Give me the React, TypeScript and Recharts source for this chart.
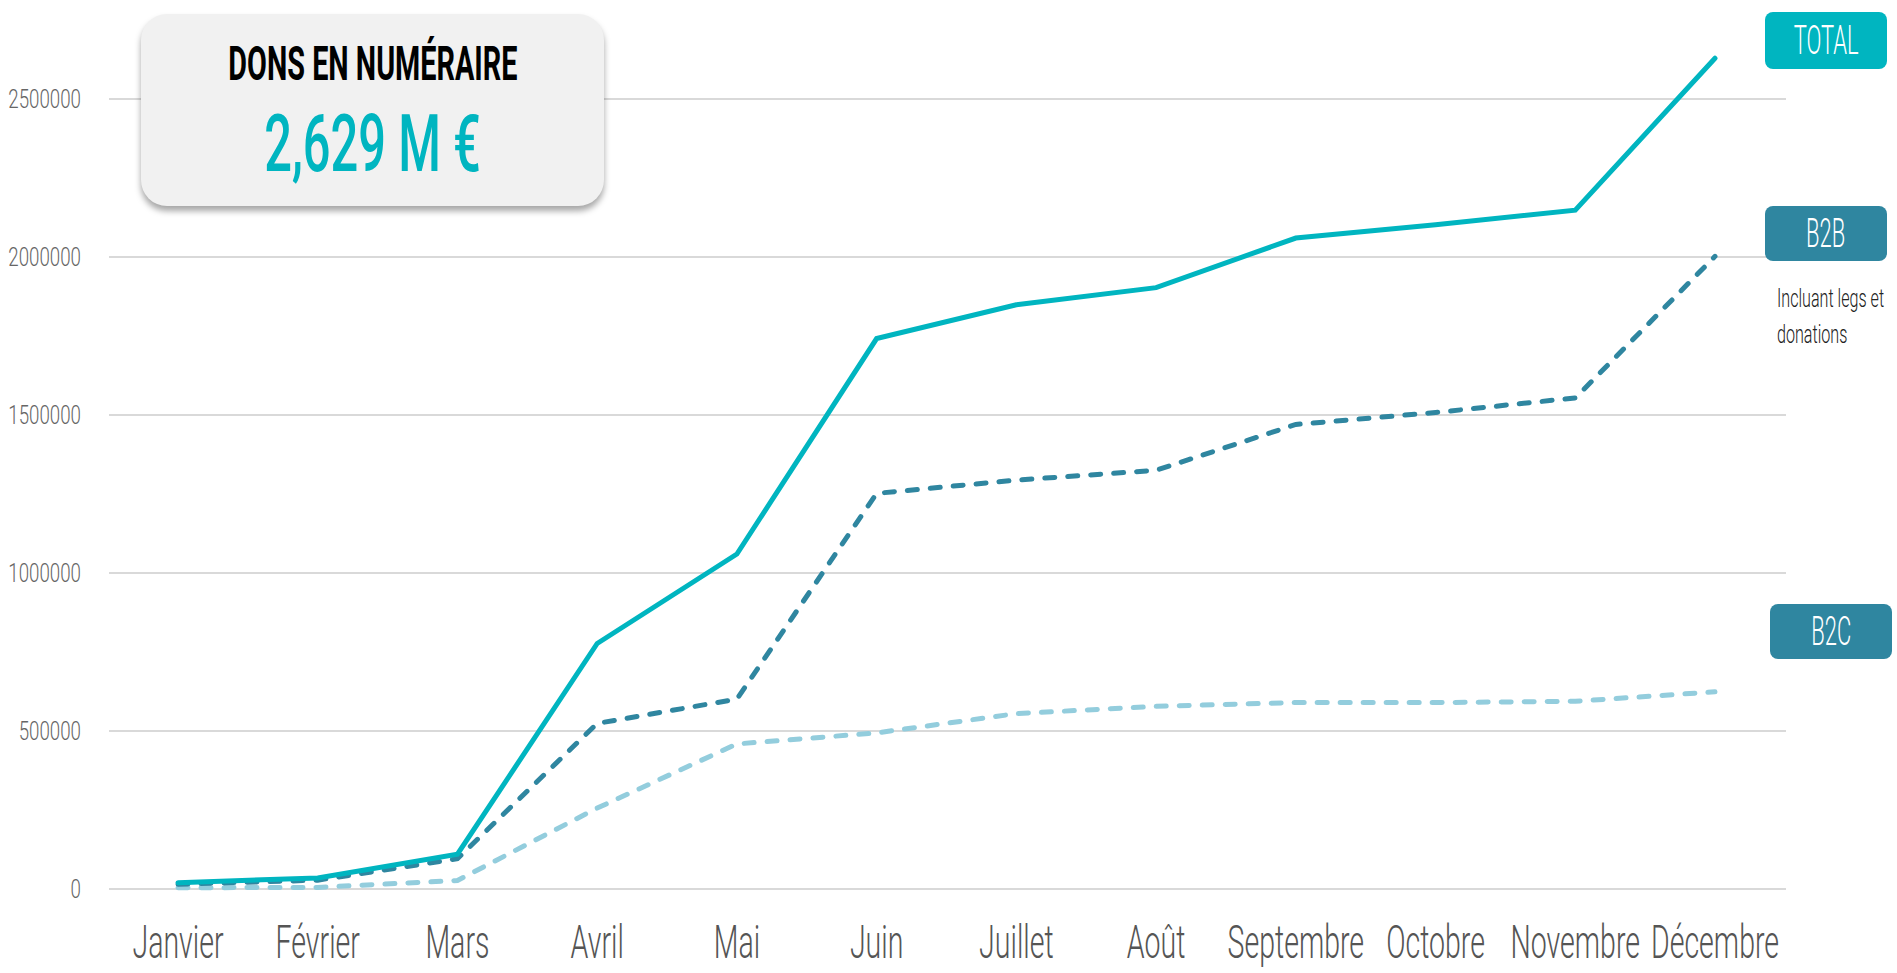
import React from 'react';
import { LineChart, Line, XAxis, YAxis, ReferenceLine } from 'recharts';

const months = ['Janvier', 'Février', 'Mars', 'Avril', 'Mai', 'Juin', 'Juillet', 'Août', 'Septembre', 'Octobre', 'Novembre', 'Décembre'];
const total = [20000, 35000, 110000, 777000, 1060000, 1742000, 1849000, 1903000, 2060000, 2102000, 2148000, 2629000];
const b2b = [15000, 28000, 96000, 524000, 601000, 1252000, 1294000, 1325000, 1470000, 1508000, 1554000, 2002000];
const b2c = [4000, 5000, 27000, 256000, 459000, 494000, 555000, 578000, 590000, 590000, 594000, 624000];
const yTicks = [0, 500000, 1000000, 1500000, 2000000, 2500000];

const data = months.map((m, i) => ({ month: m, total: total[i], b2b: b2b[i], b2c: b2c[i] }));

const TEAL = '#00b5c0';
const DARK = '#2f86a0';
const LIGHT = '#93cddd';
const FONT = 'Roboto, "Liberation Sans", sans-serif';

const XTick = (props: any) => {
  const { x, y, payload } = props;
  return (
    <g transform={`translate(${x},${y}) scale(0.62,1)`}>
      <text x={0} y={0} dy={61} textAnchor="middle" fill="#555" fontSize={46} fontWeight={300} fontFamily={FONT}>
        {payload.value}
      </text>
    </g>
  );
};

const YTick = (props: any) => {
  const { x, y, payload } = props;
  return (
    <g transform={`translate(${x},${y}) scale(0.72,1)`}>
      <text x={0} y={0} dy={9} textAnchor="end" fill="#666" fontSize={26} fontWeight={300} fontFamily={FONT}>
        {payload.value}
      </text>
    </g>
  );
};

const Badge = ({ left, top, w, h, bg, label }: any) => (
  <div
    style={{
      position: 'absolute', left, top, width: w, height: h, background: bg, borderRadius: 8,
      display: 'flex', alignItems: 'center', justifyContent: 'center', overflow: 'hidden',
    }}
  >
    <span style={{ color: '#fff', fontFamily: FONT, fontWeight: 300, fontSize: 40, transform: 'scaleX(0.55)', whiteSpace: 'nowrap' }}>
      {label}
    </span>
  </div>
);

export default function App() {
  return (
    <div style={{ position: 'absolute', left: 0, top: 0, width: 1897, height: 973, background: '#fff', overflow: 'hidden' }}>
      <LineChart width={1897} height={973} data={data} margin={{ top: 20, right: 111, bottom: 0, left: 0 }}>
        {yTicks.map((t) => (
          <ReferenceLine key={t} y={t} stroke="#d9d9d9" strokeWidth={2} />
        ))}
        <XAxis
          dataKey="month"
          height={84}
          axisLine={false}
          tickLine={false}
          interval={0}
          padding={{ left: 69, right: 71 }}
          tick={<XTick />}
        />
        <YAxis
          width={109}
          domain={[0, 2750000]}
          ticks={yTicks}
          axisLine={false}
          tickLine={false}
          tickSize={0}
          tickMargin={28}
          tick={<YTick />}
        />
        <Line type="linear" dataKey="b2c" stroke={LIGHT} strokeWidth={5} strokeDasharray="10 13" strokeLinecap="round" dot={false} isAnimationActive={false} />
        <Line type="linear" dataKey="b2b" stroke={DARK} strokeWidth={5} strokeDasharray="10 13" strokeLinecap="round" dot={false} isAnimationActive={false} />
        <Line type="linear" dataKey="total" stroke={TEAL} strokeWidth={5} strokeLinecap="round" dot={false} isAnimationActive={false} />
      </LineChart>

      <div
        style={{
          position: 'absolute', left: 141, top: 14, width: 463, height: 192, background: '#f1f1f1', borderRadius: 26,
          boxShadow: '0 5px 6px rgba(0,0,0,0.35)', display: 'flex', flexDirection: 'column', alignItems: 'center',
        }}
      >
        <div style={{ marginTop: 20, fontFamily: FONT, fontWeight: 700, fontSize: 48, color: '#000', transform: 'scaleX(0.6)', whiteSpace: 'nowrap', lineHeight: '60px' }}>
          DONS EN NUMÉRAIRE
        </div>
        <div style={{ marginTop: 10, fontFamily: FONT, fontWeight: 500, fontSize: 80, color: TEAL, transform: 'scaleX(0.61)', whiteSpace: 'nowrap', lineHeight: '80px' }}>
          2,629 M €
        </div>
      </div>

      <Badge left={1765} top={12} w={122} h={57} bg={TEAL} label="TOTAL" />
      <Badge left={1765} top={206} w={122} h={55} bg={DARK} label="B2B" />
      <Badge left={1770} top={604} w={122} h={55} bg={DARK} label="B2C" />
      <div style={{ position: 'absolute', left: 1777, top: 280, width: 200, transformOrigin: 'left top', transform: 'scaleX(0.62)', fontFamily: FONT, fontWeight: 300, fontSize: 26, color: '#222', lineHeight: '36px' }}>
        Incluant legs et<br />donations
      </div>
    </div>
  );
}
